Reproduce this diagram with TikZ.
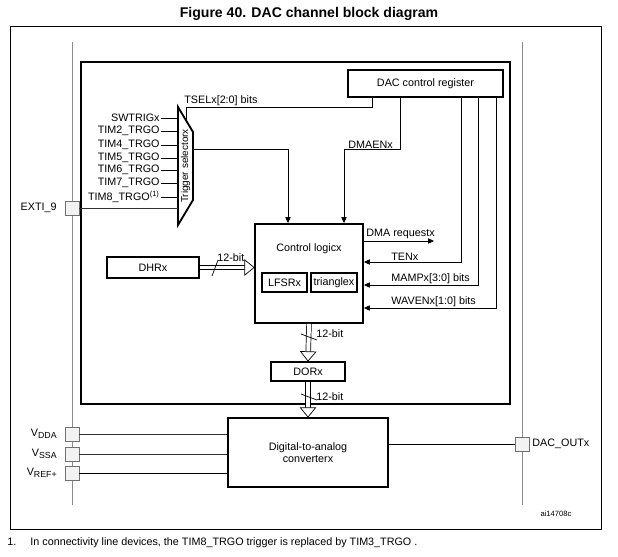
\documentclass[tikz,border=0pt]{standalone}
\usepackage{fontspec}
\setmainfont{Liberation Sans}
\usepackage{tikz}
\usetikzlibrary{arrows.meta,positioning,calc,decorations.markings}
\definecolor{PinFill}{HTML}{F2F2F2}
\definecolor{PinDraw}{HTML}{707070}
\definecolor{RailGray}{HTML}{8C8C8C}
\definecolor{Wire}{HTML}{303030}

\begin{document}
\begin{tikzpicture}[x=0.03cm,y=-0.03cm,
  every node/.style={font=\fontsize{9.2}{10.5}\selectfont, inner sep=1pt},
  blk/.style={rectangle, draw, line width=1.6pt, align=center, inner sep=0pt},
  sblk/.style={rectangle, draw, line width=1.3pt, align=center, inner sep=0pt},
  pin/.style={rectangle, draw=PinDraw, fill=PinFill, line width=0.6pt,
              minimum size=0.42cm, inner sep=0pt},
  sig/.style={draw=black, line width=0.6pt},
  arr/.style={sig, -{Triangle[length=5pt,width=4.5pt]}},
  pinw/.style={draw=Wire, line width=0.6pt},
  rail/.style={draw=RailGray, line width=0.8pt},
  bus/.style={draw=black, line width=4.6pt, shorten >=7.5pt,
              postaction={draw=white, line width=3.4pt, shorten >=7.5pt},
              postaction={decorate, decoration={markings, mark=at position 1 with
                {\draw[black, line width=0.6pt, fill=white, line join=miter]
                  (0,0) -- (-8pt,6.5pt) -- (-8pt,-6.5pt) -- cycle;}}}},
  tick/.style={draw, line width=0.6pt},
]
\useasboundingbox (0,0) rectangle (618,556);
% title and frame
\node[font=\fontsize{12}{14}\selectfont\bfseries] (title) at (309,14) {Figure 40. DAC channel block diagram};
\draw[line width=0.6pt] (10,26) rectangle (601,529);
\draw[rail] (72,42) -- (72,505);
\draw[rail] (522,42) -- (522,505);
\draw[line width=1.8pt] (81,62) rectangle (510,404);

% blocks
\node[blk, minimum width=4.65cm, minimum height=0.81cm] (dacreg) at (425.5,83.5) {DAC control register};
\node[blk, minimum width=3.24cm, minimum height=2.97cm] (cl) at (309,273.5) {};
\node (cltxt) at (309,249) {Control logicx};
\node[sblk, minimum width=1.35cm, minimum height=0.57cm] (lfsr) at (284.5,282.5) {LFSRx};
\node[sblk, minimum width=1.38cm, minimum height=0.57cm] (tri) at (334,282.5) {trianglex};
\node[blk, minimum width=2.76cm, minimum height=0.63cm] (dhr) at (153,267.5) {DHRx};
\node[blk, minimum width=2.22cm, minimum height=0.57cm] (dor) at (308,371.5) {DORx};
\node[blk, minimum width=4.8cm, minimum height=2.07cm] (conv) at (308,452.5) {Digital-to-analog\\converterx};

% trigger selector
\draw[line width=1.6pt, line join=miter] (178,107) -- (193,132) -- (193,200) -- (178,225) -- cycle;
\node[rotate=90, font=\fontsize{8.5}{10}\selectfont] (trgsel) at (185.5,166) {Trigger selectorx};
\coordinate (muxin)  at (178,166);
\coordinate (muxtop) at (186,120);
\coordinate (muxout) at (193,149);
\foreach \y/\nm/\txt in {118/swtrig/SWTRIGx, 131/tima/TIM2\_TRGO, 145/timb/TIM4\_TRGO,
    158/timc/TIM5\_TRGO, 170/timd/TIM6\_TRGO, 183/time/TIM7\_TRGO,
    197/timf/{TIM8\_TRGO\textsuperscript{(1)}}}{
  \node[anchor=east] (\nm) at (161,\y) {\txt};
  \draw[sig] (\nm.east) -- (muxin |- \nm.east);
}

% pins
\node[pin] (exti) at (72,208) {};
\node[left=0.2cm of exti] (extilbl) {EXTI\_9};
\node[pin] (vdda) at (72,434) {};
\node[left=0.18cm of vdda] (vddalbl) {V\textsubscript{\fontsize{7.5}{8}\selectfont DDA}};
\node[pin] (vssa) at (72,454) {};
\node[left=0.18cm of vssa] (vssalbl) {V\textsubscript{\fontsize{7.5}{8}\selectfont SSA}};
\node[pin] (vref) at (72,473) {};
\node[left=0.18cm of vref] (vreflbl) {V\textsubscript{\fontsize{7.5}{8}\selectfont REF+}};
\node[pin] (dacout) at (522,444) {};
\node[right=0.05cm of dacout] (dacoutlbl) {DAC\_OUTx};
\draw[pinw] (exti.east) -- (muxin |- exti.east);
\draw[pinw] (vdda.east) -- (conv.west |- vdda.east);
\draw[pinw] (vssa.east) -- (conv.west |- vssa.east);
\draw[sig]  (vref.east) -- (conv.west |- vref.east);
\draw[sig]  (conv.east |- dacout.west) -- (dacout.west);

% control signals
\draw[sig] (372,0 |- dacreg.south) |- (186,107) -- (muxtop);
\node[anchor=south west] (tsel) at (183,107) {TSELx[2:0] bits};
\draw[arr] (muxout) -| (288,0 |- cl.north);
\draw[arr] (400,0 |- dacreg.south) |- (344,149) -- (344,0 |- cl.north);
\node[anchor=south west] (dmaen) at (347,150) {DMAENx};
\coordinate (dmareq) at (434,241);
\draw[arr] (cl.east |- dmareq) -- (dmareq);
\node[anchor=south west] (dmalbl) at (365,240) {DMA requestx};
\foreach \x/\y/\nm/\txt in {461/262/ten/TENx, 478/285/mamp/MAMPx[3:0] bits, 496/308/waven/WAVENx[1:0] bits}{
  \draw[arr] (\x,0 |- dacreg.south) |- (cl.east |- 0,\y);
  \node[anchor=south west] (\nm) at (390,\y) {\txt};
}

% data buses
\draw[bus] (dhr.east) -- (cl.west |- dhr.east);
\draw[tick] (212,276) -- (218,260);
\node[anchor=west] (busa) at (216,258) {12-bit};
\draw[bus] (cl.south) -- (dor.north);
\draw[tick] (301,334) -- (317,340);
\node[anchor=west] (busb) at (315,334) {12-bit};
\draw[bus] (dor.south) -- (conv.north);
\draw[tick] (301,394) -- (317,400);
\node[anchor=west] (busc) at (315,397) {12-bit};

% notes
\node[font=\fontsize{6.5}{8}\selectfont] (ref) at (556,514) {ai14708c};
\node[anchor=west] (fnote) at (6,543) {1.\hspace{1.3em}In connectivity line devices, the TIM8\_TRGO trigger is replaced by TIM3\_TRGO .};
\end{tikzpicture}
\end{document}
